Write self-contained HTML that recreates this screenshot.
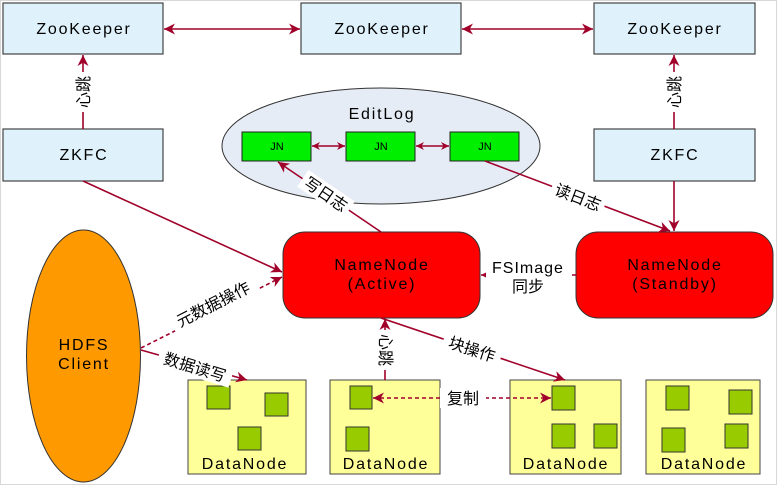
<!DOCTYPE html>
<html><head><meta charset="utf-8"><style>
body{margin:0;background:#fff}
svg{display:block}
text{font-family:"Liberation Sans","Noto Sans CJK SC",sans-serif;fill:#000}
.m{font-size:16px;letter-spacing:1.8px}
</style></head><body>
<svg width="778" height="486" viewBox="0 0 778 486" xmlns="http://www.w3.org/2000/svg">
<defs>
<marker id="a" viewBox="0 0 10 10" refX="10" refY="5" markerWidth="11" markerHeight="11" markerUnits="userSpaceOnUse" orient="auto-start-reverse"><path d="M0,0L10,5L0,10L3,5z" fill="#a0002a"/></marker>
<marker id="s" viewBox="0 0 10 10" refX="10" refY="5" markerWidth="8" markerHeight="8" markerUnits="userSpaceOnUse" orient="auto-start-reverse"><path d="M0,0L10,5L0,10L3,5z" fill="#a0002a"/></marker>
</defs>
<rect x="0.5" y="0.5" width="776" height="484" fill="#fff" stroke="#d8d8d8"/>
<g fill="#dff2fc" stroke="#444" stroke-width="1.2">
<rect x="3" y="3" width="160" height="51"/><rect x="301" y="3" width="160" height="51"/><rect x="594" y="3" width="161" height="51"/>
<rect x="3" y="129" width="160" height="52"/><rect x="594" y="129" width="161" height="52"/>
</g>
<g class="m" text-anchor="middle">
<text x="84" y="34">ZooKeeper</text><text x="382" y="34">ZooKeeper</text><text x="675" y="34">ZooKeeper</text>
<text x="84" y="160">ZKFC</text><text x="675" y="160">ZKFC</text>
</g>
<ellipse cx="381" cy="146" rx="159" ry="58" fill="#e6ecf6" stroke="#333"/>
<text x="382" y="119" class="m" text-anchor="middle">EditLog</text>
<g fill="#00ee00" stroke="#222"><rect x="242" y="132" width="69" height="29"/><rect x="346" y="132" width="69" height="29"/><rect x="450" y="132" width="69" height="29"/></g>
<g font-size="11" text-anchor="middle"><text x="277" y="150">JN</text><text x="381" y="150">JN</text><text x="485" y="150">JN</text></g>
<ellipse cx="83.5" cy="356" rx="57" ry="126" fill="#ff9900" stroke="#333"/>
<text x="84" y="350" class="m" text-anchor="middle">HDFS</text><text x="84" y="369" class="m" text-anchor="middle">Client</text>
<rect x="283" y="232" width="197" height="86" rx="22" fill="#ff0000" stroke="#333"/>
<rect x="576" y="232" width="197" height="86" rx="22" fill="#ff0000" stroke="#333"/>
<g class="m" text-anchor="middle"><text x="382" y="270">NameNode</text><text x="382" y="289">(Active)</text>
<text x="675" y="270">NameNode</text><text x="675" y="289">(Standby)</text></g>
<g fill="#ffff99" stroke="#444"><rect x="188" y="380" width="118" height="94"/><rect x="330" y="380" width="110" height="94"/><rect x="510" y="380" width="111" height="94"/><rect x="646" y="380" width="114" height="94"/></g>
<g fill="#99cc00" stroke="#333">
<rect x="207" y="386" width="23" height="23"/><rect x="265" y="393" width="23" height="23"/><rect x="238" y="427" width="23" height="23"/>
<rect x="350" y="386" width="22" height="23"/><rect x="346" y="427" width="23" height="24"/>
<rect x="552" y="386" width="23" height="24"/><rect x="552" y="424" width="23" height="24"/><rect x="594" y="424" width="23" height="24"/>
<rect x="666" y="386" width="23" height="24"/><rect x="729" y="390" width="23" height="24"/><rect x="662" y="428" width="23" height="24"/><rect x="725" y="424" width="23" height="24"/>
</g>
<g class="m" text-anchor="middle"><text x="245" y="469">DataNode</text><text x="386" y="469">DataNode</text><text x="566" y="469">DataNode</text><text x="704" y="469">DataNode</text></g>
<g stroke="#a0002a" stroke-width="1.6" fill="none">
<line x1="164" y1="29" x2="300" y2="29" marker-start="url(#a)" marker-end="url(#a)"/>
<line x1="462" y1="29" x2="593" y2="29" marker-start="url(#a)" marker-end="url(#a)"/>
<line x1="83" y1="129" x2="83" y2="55" marker-end="url(#a)"/>
<line x1="674" y1="129" x2="674" y2="55" marker-end="url(#a)"/>
<line x1="83" y1="181" x2="282" y2="272" marker-end="url(#a)"/>
<line x1="674" y1="181" x2="674" y2="231" marker-end="url(#a)"/>
<line x1="381" y1="232" x2="278" y2="162" marker-end="url(#a)"/>
<line x1="485" y1="161" x2="670" y2="231" marker-end="url(#a)"/>
<line x1="312" y1="146" x2="345" y2="146" marker-start="url(#s)" marker-end="url(#s)"/>
<line x1="416" y1="146" x2="449" y2="146" marker-start="url(#s)" marker-end="url(#s)"/>
<line x1="576" y1="275" x2="481" y2="275" marker-end="url(#s)"/>
<line x1="141" y1="348" x2="282" y2="277" stroke-dasharray="4,3" marker-end="url(#a)"/>
<line x1="141" y1="350" x2="247" y2="380" marker-end="url(#a)"/>
<line x1="385" y1="380" x2="385" y2="319" marker-end="url(#a)"/>
<line x1="381" y1="318" x2="565" y2="380" marker-end="url(#a)"/>
<line x1="373" y1="398" x2="551" y2="398" stroke-dasharray="4,3" marker-start="url(#a)" marker-end="url(#a)"/>
</g>
<g font-size="16" text-anchor="middle">
<g transform="translate(83,92) rotate(-90)"><rect x="-20" y="-10" width="40" height="20" fill="#fff"/><text y="6">心跳</text></g>
<g transform="translate(674,92) rotate(-90)"><rect x="-20" y="-10" width="40" height="20" fill="#fff"/><text y="6">心跳</text></g>
<g transform="translate(326,194) rotate(34)"><rect x="-28" y="-10" width="56" height="20" fill="#fff"/><text y="6">写日志</text></g>
<g transform="translate(578,197) rotate(21)"><rect x="-28" y="-10" width="56" height="20" fill="#fff"/><text y="6">读日志</text></g>
<rect x="486" y="256" width="86" height="40" fill="#fff"/>
<text x="528" y="273" letter-spacing="1">FSImage</text><text x="528" y="292">同步</text>
<g transform="translate(213,304) rotate(-27)"><rect x="-46" y="-10" width="92" height="20" fill="#fff"/><text y="6">元数据操作</text></g>
<g transform="translate(195,367) rotate(17)"><rect x="-38" y="-10" width="76" height="20" fill="#fff"/><text y="6">数据读写</text></g>
<g transform="translate(386,350) rotate(90)"><rect x="-20" y="-10" width="40" height="20" fill="#fff"/><text y="6">心跳</text></g>
<g transform="translate(472,349) rotate(18)"><rect x="-30" y="-10" width="60" height="20" fill="#fff"/><text y="6">块操作</text></g>
<rect x="440" y="388" width="46" height="20" fill="#fff"/><text x="463" y="404">复制</text>
</g>
</svg>
</body></html>
